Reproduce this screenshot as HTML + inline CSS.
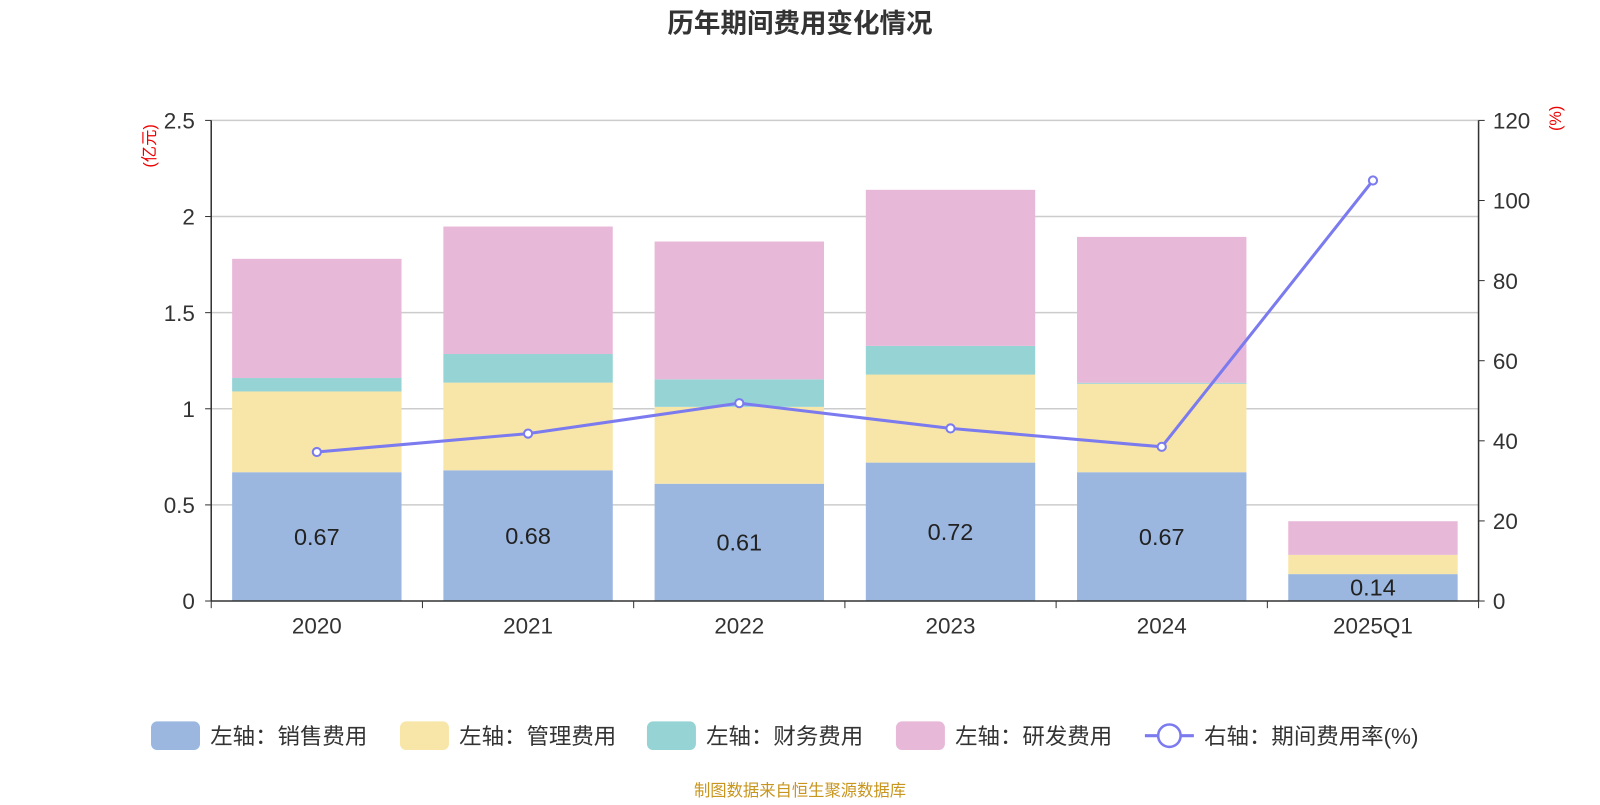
<!DOCTYPE html>
<html><head><meta charset="utf-8">
<style>
body{margin:0;background:#fff;width:1600px;height:800px;overflow:hidden;font-family:"Liberation Sans","Noto Sans CJK SC",sans-serif;}
svg text{font-family:"Liberation Sans","Noto Sans CJK SC",sans-serif;}
</style></head>
<body>
<svg id="chart" width="1600" height="800" viewBox="0 0 1568 784" xmlns="http://www.w3.org/2000/svg">
<text x="784" y="32" text-anchor="middle" font-size="26" font-weight="bold" fill="#333">历年期间费用变化情况</text>
<text transform="translate(152,143) rotate(-90)" text-anchor="middle" font-size="16" fill="#e00">(亿元)</text>
<text transform="translate(1530,116) rotate(-90)" text-anchor="middle" font-size="16" fill="#e00">(%)</text>
<g id="grid"></g><g id="bars"></g><g id="axes"></g><g id="line"></g><g id="legend"></g>
<text x="784" y="780" text-anchor="middle" font-size="16" fill="#c8961e">制图数据来自恒生聚源数据库</text>
</svg>
<script>
const categories=["2020","2021","2022","2023","2024","2025Q1"];
const sales=[0.67,0.68,0.61,0.72,0.67,0.14];
const admin=[0.42,0.456,0.40,0.458,0.46,0.10];
const finance=[0.07,0.149,0.143,0.149,0.005,0.0];
const rnd=[0.62,0.663,0.717,0.812,0.759,0.175];
const rate=[37.2,41.8,49.4,43.1,38.5,105];
const leftTicks=["0","0.5","1","1.5","2","2.5"];
const rightTicks=["0","20","40","60","80","100","120"];
const NS="http://www.w3.org/2000/svg";
const X0=207,X1=1449,Y0=589,Y1=118;
const bw=(X1-X0)/categories.length;
const yL=v=>Y0-(v/2.5)*(Y0-Y1);
const yR=v=>Y0-(v/120)*(Y0-Y1);
const xC=i=>X0+bw*(i+0.5);
function mk(tag,attrs,parent,txt){const e=document.createElementNS(NS,tag);for(const k in attrs)e.setAttribute(k,attrs[k]);if(txt!==undefined)e.textContent=txt;document.getElementById(parent).appendChild(e);return e;}
leftTicks.forEach((t,i)=>{const v=+t;const y=yL(v);
 if(v>0){const g=mk('line',{x1:X0,x2:X1,y1:y,y2:y,stroke:'#ccc','stroke-width':1.5},'grid');}
 const tk=mk('line',{x1:X0-6,x2:X0,y1:y,y2:y,stroke:'#333'},'axes');
 const l=mk('text',{x:X0-16,y:y+8,'text-anchor':'end','font-size':22,fill:'#333'},'axes',t);});
rightTicks.forEach(t=>{const y=yR(+t);
 const tk=mk('line',{x1:X1,x2:X1+6,y1:y,y2:y,stroke:'#333'},'axes');
 const l=mk('text',{x:X1+14,y:y+8,'font-size':22,fill:'#333'},'axes',t);});
[[X0,Y1,X0,Y0],[X1,Y1,X1,Y0],[X0,Y0,X1,Y0]].forEach(a=>{const l=mk('line',{x1:a[0],y1:a[1],x2:a[2],y2:a[3],stroke:'#333','stroke-width':1.5},'axes');});
for(let i=0;i<=categories.length;i++){const x=X0+bw*i;const t=mk('line',{x1:x,x2:x,y1:Y0,y2:Y0+7,stroke:'#333'},'axes');}
const series=[[sales,'#9bb7e0','sales'],[admin,'#f8e6a8','admin'],[finance,'#96d3d5','finance'],[rnd,'#e7b8d8','rnd']];
categories.forEach((c,i)=>{
 const l=mk('text',{x:xC(i),y:Y0+32,'text-anchor':'middle','font-size':22,fill:'#333'},'axes',c);
 let base=0;const w=166;
 series.forEach(s=>{const v=s[0][i];const r=mk('rect',{x:xC(i)-w/2,y:yL(base+v),width:w,height:yL(base)-yL(base+v),fill:s[1]},'bars');
  base+=v;});
 const lab=mk('text',{x:xC(i),y:(yL(0)+yL(sales[i]))/2+8,'text-anchor':'middle','font-size':23,fill:'#222'},'bars',sales[i].toFixed(2));
 
});
const pts=rate.map((v,i)=>xC(i)+','+yR(v)).join(' ');
const pl=mk('polyline',{points:pts,fill:'none',stroke:'#7b7bef','stroke-width':3},'line');
rate.forEach((v,i)=>{const c=mk('circle',{cx:xC(i),cy:yR(v),r:4,fill:'#fff',stroke:'#7b7bef','stroke-width':2},'line');});
const legendItems=[['左轴：销售费用','#9bb7e0',148],['左轴：管理费用','#f8e6a8',392],['左轴：财务费用','#96d3d5',634],['左轴：研发费用','#e7b8d8',878]];
legendItems.forEach(it=>{const r=mk('rect',{x:it[2],y:707,width:48,height:28,rx:6,fill:it[1]},'legend');
 const t=mk('text',{x:it[2]+58,y:729,'font-size':22,fill:'#333'},'legend',it[0]);});
const ll=mk('line',{x1:1122,x2:1170,y1:721,y2:721,stroke:'#7b7bef','stroke-width':3},'legend');
const lc=mk('circle',{cx:1146,cy:721,r:11,fill:'#fff',stroke:'#7b7bef','stroke-width':2.5},'legend');
const lt=mk('text',{x:1180,y:729,'font-size':22,fill:'#333'},'legend','右轴：期间费用率(%)');
</script>
</body></html>
